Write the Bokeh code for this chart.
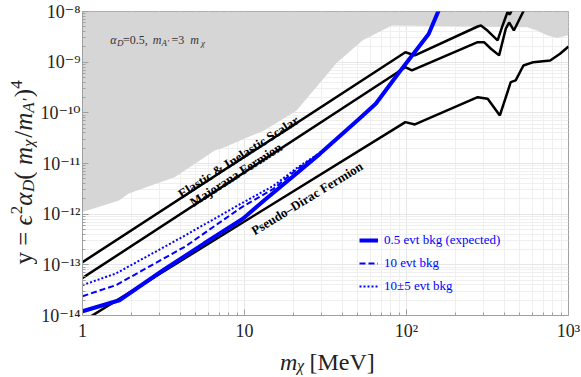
import math
from bokeh.plotting import figure
from bokeh.layouts import row, column
from bokeh.models import Range1d, FixedTicker, Label, Legend, LegendItem
from bokeh.embed import file_html
from bokeh.resources import INLINE

# ---------------- data ----------------
x_ticks = [1, 10, 100, 1000]
x_tick_labels = ["1", "10", "10²", "10³"]
y_ticks = [1e-14, 1e-13, 1e-12, 1e-11, 1e-10, 1e-9, 1e-8]
y_tick_labels = ["10⁻¹⁴", "10⁻¹³", "10⁻¹²", "10⁻¹¹", "10⁻¹⁰", "10⁻⁹", "10⁻⁸"]

# excluded (gray) region lower boundary
excl_x = [1, 1.68, 1.93, 3.73, 6.55, 7.53, 13.2, 20.9, 35.2, 36.7, 53.7, 81.3, 556, 640, 736, 847, 1000]
excl_y = [1.1e-12, 1.86e-12, 2.57e-12, 5.4e-12, 1.8e-11, 2.1e-11, 4.5e-11, 1.1e-10, 7.96e-10,
          9.4e-10, 2.7e-9, 5.3e-9, 4.9e-9, 4.2e-9, 3.4e-9, 3.0e-9, 3.4e-9]

# thermal targets
scalar_x = [1, 98.4, 112.7, 275, 288, 316, 365, 392, 420, 434, 457]
scalar_y = [1.13e-13, 1.57e-9, 1.36e-9, 5.06e-9, 5.3e-9, 4.2e-9, 2.68e-9, 5.3e-9, 9.7e-9, 8.7e-9, 1.26e-8]
majorana_x = [1, 98.4, 108, 275, 301, 332, 373, 410, 430, 460, 530]
majorana_y = [5.5e-14, 7.96e-10, 6.86e-10, 2.48e-9, 2.48e-9, 1.84e-9, 1.36e-9, 4.56e-9, 6.07e-9, 4.22e-9, 1.05e-8]
pdirac_x = [1, 98.4, 112.7, 275, 317, 377, 440, 472, 527, 607, 771, 887, 1000]
pdirac_y = [7.6e-15, 6.56e-11, 5.9e-11, 2.04e-10, 1.9e-10, 8.9e-11, 4.04e-10, 4.36e-10, 8.6e-10,
            1.0e-9, 1.08e-9, 1.47e-9, 2.04e-9]

# sensitivity curves
bkg05_x = [1, 1.69, 3.16, 5.62, 9.77, 13.2, 20, 29.2, 50.1, 64.6, 89.7, 137, 158]
bkg05_y = [1.21e-14, 2.0e-14, 7.9e-14, 2.63e-13, 8.1e-13, 1.86e-12, 5.6e-12, 1.55e-11, 7.2e-11,
           1.51e-10, 6.2e-10, 3.6e-9, 1.05e-8]
bkg10_x = [1, 1.61, 4.3, 9.53, 15.1, 21, 32.1, 50.1, 64.6, 89.7, 137, 158]
bkg10_y = [2.4e-14, 3.98e-14, 2.29e-13, 1.35e-12, 3.16e-12, 7.6e-12, 1.99e-11, 7.2e-11, 1.51e-10,
           6.2e-10, 3.6e-9, 1.05e-8]
bkg10pm5_x = [1, 1.61, 4.3, 9.53, 15.1, 21, 32.1, 50.1, 64.6, 89.7, 137, 158]
bkg10pm5_y = [3.98e-14, 6.76e-14, 3.8e-13, 1.62e-12, 3.63e-12, 8.1e-12, 1.99e-11, 7.2e-11, 1.51e-10,
              6.2e-10, 3.6e-9, 1.05e-8]

legend_labels = ["0.5 evt bkg (expected)", "10 evt bkg", "10±5 evt bkg"]
curve_labels = ["Elastic & Inelastic Scalar", "Majorana Fermion", "Pseudo–Dirac Fermion"]

# ---------------- layout constants (window pixels) ----------------
SERIF = "Liberation Serif, DejaVu Serif, serif"
X0, X1 = 1, 1000
Y0, Y1 = 1e-14, 1e-8
WIN_W, WIN_H = 581, 377
YL_W = 37            # strip holding the y-axis title
XL_H = 34            # strip holding the x-axis title
FL, FR, FT, FB = 76, 568, 11, 316   # plot frame edges in window pixels
MAIN_W, MAIN_H = WIN_W - YL_W, WIN_H - XL_H

p = figure(width=MAIN_W, height=MAIN_H, x_axis_type="log", y_axis_type="log",
           x_range=Range1d(X0, X1), y_range=Range1d(Y0, Y1),
           output_backend="svg", toolbar_location=None,
           min_border_left=FL - YL_W, min_border_right=WIN_W - FR,
           min_border_top=FT, min_border_bottom=MAIN_H - FB)
p.background_fill_color = "white"
p.border_fill_color = "white"
p.outline_line_color = "#a0a0a0"
p.outline_line_width = 1

minor_x = [m * 10 ** k for k in range(0, 3) for m in range(2, 10)]
minor_y = [m * 10.0 ** k for k in range(-14, -8) for m in range(2, 10)]
p.xaxis.ticker = FixedTicker(ticks=x_ticks, minor_ticks=minor_x)
p.yaxis.ticker = FixedTicker(ticks=y_ticks, minor_ticks=minor_y)
p.xaxis.major_label_overrides = dict(zip(x_ticks, x_tick_labels))
p.yaxis.major_label_overrides = dict(zip(y_ticks, y_tick_labels))

for ax in (p.xaxis[0], p.yaxis[0]):
    ax.axis_line_color = "#a0a0a0"
    ax.major_tick_line_color = "#a0a0a0"
    ax.minor_tick_line_color = "#a0a0a0"
    ax.major_tick_in = 6
    ax.major_tick_out = 0
    ax.minor_tick_in = 3
    ax.minor_tick_out = 0
    ax.major_label_text_font = SERIF
    ax.major_label_text_font_size = "18px"
    ax.major_label_text_color = "#222222"
p.xaxis.major_label_standoff = 5
p.yaxis.major_label_standoff = 2

for g in (p.xgrid[0], p.ygrid[0]):
    g.grid_line_color = "#e6e6e6"
    g.minor_grid_line_color = "#efefef"

# excluded region
p.varea(x=excl_x, y1=excl_y, y2=Y1, fill_color="#d6d6d6")

# thermal target lines
p.line(scalar_x, scalar_y, line_color="black", line_width=2.5)
p.line(majorana_x, majorana_y, line_color="black", line_width=2.5)
p.line(pdirac_x, pdirac_y, line_color="black", line_width=2.5)

# sensitivity curves
r_dot = p.line(bkg10pm5_x, bkg10pm5_y, line_color="#0000ff", line_width=2, line_dash="2 2")
r_dash = p.line(bkg10_x, bkg10_y, line_color="#0000ff", line_width=2, line_dash="6 3")
r_solid = p.line(bkg05_x, bkg05_y, line_color="#0000ff", line_width=4)

legend = Legend(items=[LegendItem(label=legend_labels[0], renderers=[r_solid]),
                       LegendItem(label=legend_labels[1], renderers=[r_dash]),
                       LegendItem(label=legend_labels[2], renderers=[r_dot])],
                location=(277, 19), padding=0, margin=0, spacing=3,
                glyph_width=19, glyph_height=20, label_height=20, label_standoff=6,
                label_text_font=SERIF, label_text_font_size="13px", label_text_color="#0000ff",
                border_line_alpha=0, background_fill_alpha=0)
p.add_layout(legend, "center")


# ---------------- text helpers ----------------
def dx(px):
    return 10 ** (math.log10(X0) + (px - FL) / (FR - FL) * (math.log10(X1) - math.log10(X0)))


def dy(py):
    return 10 ** (math.log10(Y1) - (py - FT) / (FB - FT) * (math.log10(Y1) - math.log10(Y0)))


def put(fig, x, y, text, size, style="normal", color="black", angle=0.0):
    fig.add_layout(Label(x=x, y=y, text=text, text_font=SERIF,
                         text_font_size=f"{size}px", text_font_style=style, text_color=color,
                         angle=angle, text_align="left", text_baseline="alphabetic"))


def strip(w, h):
    f = figure(width=w, height=h, x_range=Range1d(0, w), y_range=Range1d(0, h),
               output_backend="svg", toolbar_location=None, title=None,
               x_axis_location=None, y_axis_location=None,
               min_border_left=0, min_border_right=0, min_border_top=0, min_border_bottom=0)
    f.xgrid.visible = False
    f.ygrid.visible = False
    f.outline_line_color = None
    f.background_fill_color = "white"
    f.border_fill_color = "white"
    return f


EM = {'y': .5, ' ': .25, '=': .564, '(': .333, ')': .333, '/': .278, '2': .5, '4': .5,
      'ϵ': .45, 'α': .55, 'D': .722, 'm': .722, 'χ': .55, 'A': .611, '′': .3}

# y-axis title strip (window x = strip x, window y = WIN_H - strip y)
ylab = strip(YL_W, WIN_H)
ypieces = [("y = ", "normal", 0), ("ϵ", "italic", 0), ("2", "normal", 1), ("α", "italic", 0),
           ("D", "italic", -1), (" (", "normal", 0), ("m", "italic", 0), ("χ", "italic", -1),
           ("/", "normal", 0), ("m", "italic", 0), ("A′", "italic", -1), (")", "normal", 0),
           ("4", "normal", 1)]
cur = 264.0
for txt, sty, lvl in ypieces:
    size = 25 if lvl == 0 else 17
    xb = {0: 23, -1: 28, 1: 16}[lvl]
    put(ylab, xb, WIN_H - cur, txt, size, sty, "#222222", angle=math.pi / 2)
    cur -= sum(EM.get(c, .5) for c in txt) * size * 1.0

# x-axis title strip (window x = strip x + YL_W, window y = MAIN_H + (XL_H - strip y))
xlab = strip(MAIN_W, XL_H)
for txt, wx, wy, size, sty in [("m", 258, 361, 24, "italic"), ("χ", 277, 365, 16, "italic"),
                               ("[MeV]", 291, 361, 24, "normal")]:
    put(xlab, wx - YL_W, WIN_H - wy, txt, size, sty, "#222222")

# top-left annotation inside the plot
ann = "#333333"
for txt, wx, wy, size, sty in [("α", 104, 40, 12, "italic"), ("D", 111, 43, 9, "italic"),
                               ("=0.5, ", 117, 40, 12, "normal"), ("m", 147, 40, 12, "italic"),
                               ("A′", 156, 43, 9, "italic"), ("=3 ", 166, 40, 12, "normal"),
                               ("m", 185, 40, 12, "italic"), ("χ", 196, 43, 9, "italic")]:
    put(p, dx(wx), dy(wy), txt, size, sty, ann)

# curve labels (rotated along the lines)
put(p, dx(174), dy(195), curve_labels[0], 13, "bold", "black", angle=math.radians(32.8))
put(p, dx(186), dy(203.5), curve_labels[1], 13, "bold", "black", angle=math.radians(32.8))
put(p, dx(248), dy(232), curve_labels[2], 13, "bold", "black", angle=math.radians(31.5))

layout = row(ylab, column(p, xlab, spacing=0), spacing=0)
open("out.html", "w").write(file_html(layout, INLINE))
